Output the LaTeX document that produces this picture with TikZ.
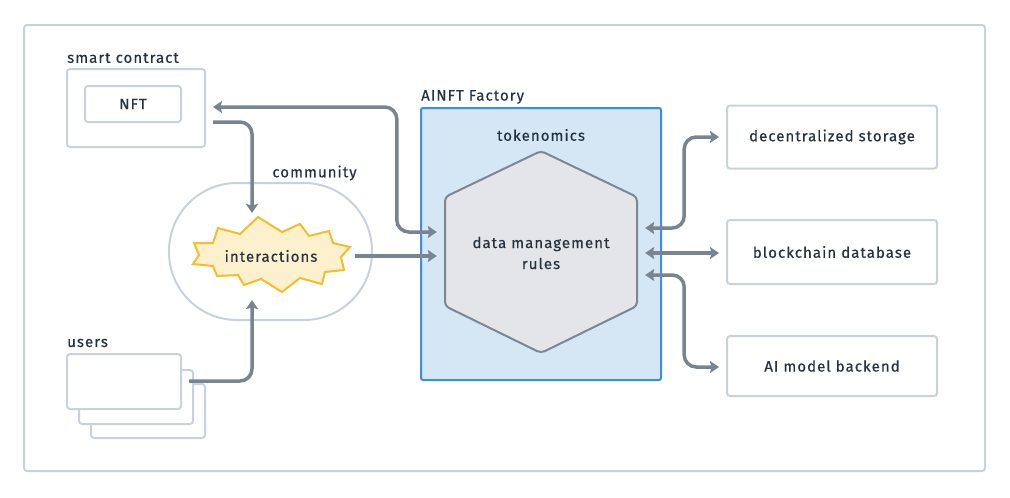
\documentclass[tikz,border=0pt]{standalone}
\usepackage{fontspec}
\setmainfont[LetterSpace=7,FakeBold=0.4]{Fira Sans}
\usetikzlibrary{arrows.meta,calc}
\definecolor{frame}{HTML}{C8D2DC}
\definecolor{ink}{HTML}{26323F}
\definecolor{arrowc}{HTML}{78848F}
\definecolor{facfill}{HTML}{D5E6F5}
\definecolor{facline}{HTML}{3A8EE6}
\definecolor{hexfill}{HTML}{E3E5E8}
\definecolor{hexline}{HTML}{7B8794}
\definecolor{starfill}{HTML}{FDF0CC}
\definecolor{starline}{HTML}{F3BD2B}
\tikzset{
  txt/.style={text=ink,font=\fontsize{15}{18}\selectfont},
  lbl/.style={txt,inner sep=0pt},
  box/.style={draw=frame,line width=2pt,rounded corners=3pt,fill=white,txt,inner sep=0pt},
  conn/.style={draw=arrowc,line width=3.5pt,rounded corners=12pt,
    arrows={-Stealth[length=9pt,width=12pt,inset=1.5pt]}},
  bconn/.style={draw=arrowc,line width=3.5pt,rounded corners=12pt,
    arrows={Stealth[length=9pt,width=12pt,inset=1.5pt]-Stealth[length=9pt,width=12pt,inset=1.5pt]}}
}
\begin{document}
\begin{tikzpicture}[x=1pt,y=-1pt]
\useasboundingbox (0,0) rectangle (1010,498);
% outer frame
\draw[frame,line width=2pt,rounded corners=3pt] (24,25) rectangle (985,471);

% smart contract
\node[lbl,anchor=west] (sclbl) at (67,58) {smart contract};
\node[box,minimum width=138pt,minimum height=78pt] (sc) at (136,108) {};
\node[box,minimum width=96pt,minimum height=36pt] (nft) at (133,104) {NFT};

% community
\node[lbl] (comlbl) at (314.5,173) {community};
\node[draw=frame,line width=2pt,rounded corners=68pt,minimum width=203pt,minimum height=137pt] (com) at (270.5,251.5) {};
\draw[starline,fill=starfill,line width=2pt,line join=miter]
  (258,217) -- (282,232) -- (300,224) -- (309,236) -- (329,231) -- (333,243) -- (350,247) -- (341,257) -- (344,270) -- (325,272) -- (322,284) -- (300,278) -- (282,292) -- (261,279) -- (244,285) -- (238,275) -- (217,276) -- (213,266) -- (193,264) -- (199,255) -- (194,243) -- (213,243) -- (218,228) -- (240,234) -- cycle;
\node[txt,inner sep=0pt] (inter) at (271,256) {interactions};

% users
\node[lbl,anchor=west] (userslbl) at (67,343) {users};
\node[box,minimum width=114pt,minimum height=54pt] (u3) at (148,411) {};
\node[box,minimum width=114pt,minimum height=54pt] (u2) at (136,397) {};
\node[box,minimum width=114pt,minimum height=55pt] (u1) at (124,381.5) {};

% AINFT Factory
\node[lbl,anchor=west] (faclbl) at (421,97) {AINFT Factory};
\node[draw=facline,fill=facfill,line width=2pt,rounded corners=2pt,minimum width=240pt,minimum height=272pt] (fac) at (541,244) {};
\node[lbl] (tok) at (541,135) {tokenomics};
\draw[hexline,fill=hexfill,line width=2pt,rounded corners=4pt]
  (541,151) -- (637,197) -- (637,306) -- (541,353) -- (445,306) -- (445,197) -- cycle;
\node[txt,align=center,inner sep=0pt,minimum width=192pt,minimum height=109pt] (hex) at (541,253) {data management\\[3pt]rules};

% right boxes
\node[box,minimum width=210pt,minimum height=63pt] (ds) at (832,137) {decentralized storage};
\node[box,minimum width=210pt,minimum height=64pt] (bc) at (832,252) {blockchain database};
\node[box,minimum width=210pt,minimum height=60pt] (ai) at (832,366) {AI model backend};

% connectors
\draw[bconn] ($(hex.west)+(-8,-21)$) -- ($(hex.west)+(-48,-21)$) |- ($(sc.east)+(7,-1)$);
\draw[conn] ($(sc.east)+(7,14)$) -| ($(inter.center)+(-19,-43)$);
\draw[conn] ($(u2.east)+(-5,-16)$) -| ($(inter.center)+(-19,44)$);
\draw[conn] ($(inter.center)+(84,0)$) -- ($(hex.west |- inter.center)+(-8,0)$);
\draw[bconn] ($(hex.east)+(8,-25)$) -- ($(hex.east)+(47,-25)$) |- ($(ds.west)+(-7,0)$);
\draw[bconn] ($(hex.east |- bc.west)+(8,1)$) -- ($(bc.west)+(-7,1)$);
\draw[bconn] ($(hex.east)+(8,22)$) -- ($(hex.east)+(47,22)$) |- ($(ai.west)+(-7,1)$);
\end{tikzpicture}
\end{document}
